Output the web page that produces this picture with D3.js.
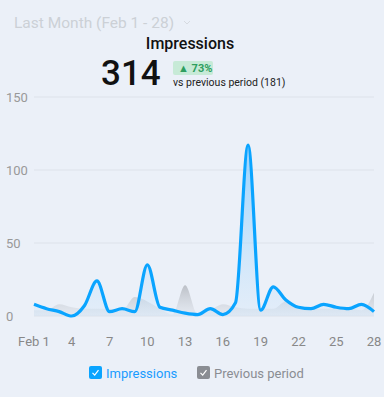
<!DOCTYPE html>
<html>
<head>
<meta charset="utf-8">
<script src="https://cdn.jsdelivr.net/npm/d3@7/dist/d3.min.js"></script>
<style>
  html, body { margin: 0; padding: 0; background: #ebf0f8; }
  body { width: 384px; height: 397px; overflow: hidden; font-family: Roboto, "Noto Sans", sans-serif; }
</style>
</head>
<body>
<div id="chart"></div>
<script>
// days of February and the two series
var days = d3.range(1, 29);
var impressions = [8, 5, 3, 0, 7, 24, 3, 5, 3, 35, 6, 4, 2, 1, 5, 1, 9, 117, 4, 20, 11, 6, 5, 8, 6, 5, 8, 3];
var previous = [4, 4, 8, 6, 5, 5, 5, 4, 13, 10, 5, 1, 21, 1, 4, 8, 6, 5, 5, 5, 10, 6, 5, 5, 5, 5, 4, 16];
var yTicks = [0, 50, 100, 150];
var xTicks = [1, 4, 7, 10, 13, 16, 19, 22, 25, 28];

var W = 384, H = 397;
var svg = d3.select("#chart").append("svg")
    .attr("width", W)
    .attr("height", H);

var defs = svg.append("defs");
var gBlue = defs.append("linearGradient").attr("id", "gBlue")
    .attr("x1", 0).attr("y1", 0).attr("x2", 0).attr("y2", 1);
gBlue.append("stop").attr("offset", "0%").attr("stop-color", "#7cc8ff").attr("stop-opacity", 0.75);
gBlue.append("stop").attr("offset", "100%").attr("stop-color", "#cfe6fb").attr("stop-opacity", 0.3);

var gGray = defs.append("linearGradient").attr("id", "gGray")
    .attr("gradientUnits", "userSpaceOnUse")
    .attr("x1", 0).attr("y1", 284).attr("x2", 0).attr("y2", 316);
gGray.append("stop").attr("offset", "0%").attr("stop-color", "#b4b8bf").attr("stop-opacity", 0.9);
gGray.append("stop").attr("offset", "100%").attr("stop-color", "#dde2ea").attr("stop-opacity", 0.5);

var x = d3.scaleLinear().domain([1, 28]).range([34, 374]);
var y = d3.scaleLinear().domain([0, 150]).range([316, 97]);

// header
svg.append("text")
    .attr("x", 14).attr("y", 28)
    .attr("font-size", 15.5)
    .attr("fill", "#ccd0d6")
    .text("Last Month (Feb 1 - 28)");
svg.append("path")
    .attr("d", "M184,21 l3,3 l3,-3")
    .attr("fill", "none")
    .attr("stroke", "#d6dae0")
    .attr("stroke-width", 1);

svg.append("text")
    .attr("x", 190).attr("y", 49)
    .attr("text-anchor", "middle")
    .attr("font-size", 16)
    .attr("font-weight", 500)
    .attr("fill", "#111")
    .text("Impressions");

svg.append("text")
    .attr("x", 101).attr("y", 85)
    .attr("font-size", 35)
    .attr("font-weight", 500)
    .attr("fill", "#111")
    .text(d3.sum(impressions));

svg.append("rect")
    .attr("x", 173).attr("y", 61)
    .attr("width", 40).attr("height", 14)
    .attr("rx", 2)
    .attr("fill", "#c7ead7");
svg.append("text")
    .attr("x", 178).attr("y", 72)
    .attr("font-size", 11)
    .attr("font-weight", 700)
    .attr("fill", "#2e9e5f")
    .text("\u25B2 73%");
svg.append("text")
    .attr("x", 173).attr("y", 86)
    .attr("font-size", 10.5)
    .attr("fill", "#222")
    .text("vs previous period (" + d3.sum(previous) + ")");

// grid + y axis labels
svg.selectAll(".grid")
    .data(yTicks)
    .enter()
    .append("line")
    .attr("x1", 34).attr("x2", 374)
    .attr("y1", function(d){ return y(d); })
    .attr("y2", function(d){ return y(d); })
    .attr("stroke", "#dde2ea")
    .attr("stroke-width", 1);

svg.selectAll(".ylab")
    .data(yTicks)
    .enter()
    .append("text")
    .attr("x", 6)
    .attr("y", function(d){ return y(d) + 5; })
    .attr("font-size", 13)
    .attr("fill", "#999")
    .text(function(d){ return d; });

// series
var area = function(vals){
    return d3.area()
        .x(function(d, i){ return x(days[i]); })
        .y0(y(0))
        .y1(function(d){ return y(d); })
        .curve(d3.curveMonotoneX)(vals);
};
var line = d3.line()
    .x(function(d, i){ return x(days[i]); })
    .y(function(d){ return y(d); })
    .curve(d3.curveMonotoneX);

svg.append("path")
    .attr("d", area(previous))
    .attr("fill", "url(#gGray)");

svg.append("path")
    .attr("d", area(impressions))
    .attr("fill", "url(#gBlue)");

svg.append("path")
    .attr("d", line(impressions))
    .attr("fill", "none")
    .attr("stroke", "#0aa4ff")
    .attr("stroke-width", 3.2)
    .attr("stroke-linejoin", "round");

// x labels
svg.selectAll(".xlab")
    .data(xTicks)
    .enter()
    .append("text")
    .attr("x", function(d){ return x(d); })
    .attr("y", 346)
    .attr("text-anchor", "middle")
    .attr("font-size", 13)
    .attr("fill", "#888")
    .text(function(d){ return d === 1 ? "Feb 1" : d; });

// legend
var legend = [
    { name: "Impressions", color: "#0aa4ff", text: "#1a9cff", x: 89 },
    { name: "Previous period", color: "#8a8d93", text: "#8a8d93", x: 197 }
];
var lg = svg.selectAll(".lg")
    .data(legend)
    .enter()
    .append("g")
    .attr("transform", function(d){ return "translate(" + d.x + ",366)"; });
lg.append("rect")
    .attr("width", 13).attr("height", 13)
    .attr("rx", 2)
    .attr("fill", function(d){ return d.color; });
lg.append("path")
    .attr("d", "M3.5,6.8 l2.2,2.3 l3.8,-5")
    .attr("fill", "none")
    .attr("stroke", "#fff")
    .attr("stroke-width", 1.2);
lg.append("text")
    .attr("x", 17).attr("y", 11.5)
    .attr("font-size", 13)
    .attr("fill", function(d){ return d.text; })
    .text(function(d){ return d.name; });
</script>
</body>
</html>
